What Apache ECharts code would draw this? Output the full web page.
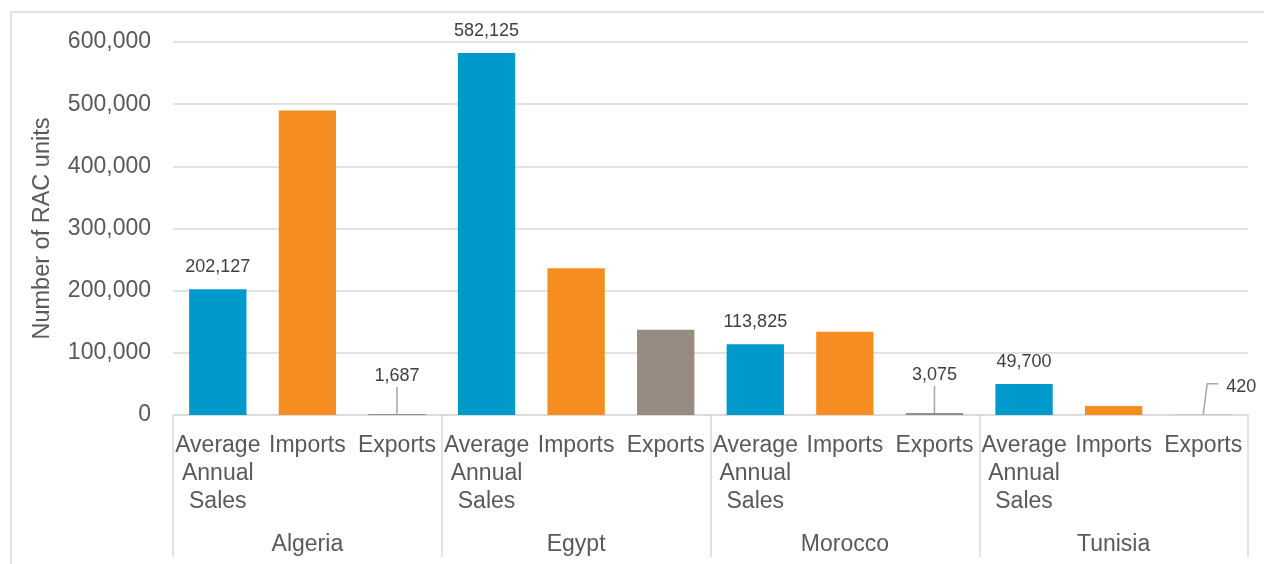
<!DOCTYPE html>
<html>
<head>
<meta charset="utf-8">
<title>RAC units by country</title>
<script src="https://cdn.jsdelivr.net/npm/echarts@6/dist/echarts.min.js"></script>
<style>
  html, body { margin: 0; padding: 0; background: #ffffff; }
  #chart { width: 1264px; height: 564px; }
</style>
</head>
<body>
<div id="chart"></div>
<script>
// Room air-conditioner market figures per country
const countries = ['Algeria', 'Egypt', 'Morocco', 'Tunisia'];
const measures = ['Average\nAnnual\nSales', 'Imports', 'Exports'];
const avgSales = [202127, 582125, 113825, 49700];
const importsVals = [490000, 236000, 134000, 14500];
const exportsVals = [1687, 137000, 3075, 420];
const yTicks = [0, 100000, 200000, 300000, 400000, 500000, 600000];

const measureColors = ['#0099CC', '#F58D21', '#988B82'];
const textColor = '#595959';
const gridColor = '#D9D9D9';
const leaderColor = '#A6A6A6';
const fontFamily = '"Liberation Sans", Arial, sans-serif';
const labelDistance = 13;
const labelFont = 18;
const fmt = v => Number(v).toLocaleString('en-US');

// Small export bars get their labels lifted, joined by a leader line
const exportLabelShift = { 'Algeria': [0, -16], 'Morocco': [0, -16], 'Tunisia': [38, -6] };

// Flatten country x measure into 12 bars
const categories = [];
const barData = [];
const leaderData = [];
countries.forEach((c, ci) => {
  const vals = [avgSales[ci], importsVals[ci], exportsVals[ci]];
  measures.forEach((m, mi) => {
    const idx = categories.length;
    categories.push(m);
    const lifted = mi === 2 && exportLabelShift[c] != null;
    barData.push({
      value: vals[mi],
      itemStyle: { color: measureColors[mi] },
      label: { show: mi === 0 || lifted }
    });
    if (lifted) leaderData.push([idx, vals[mi], ci]);
  });
});

function labelShiftFor(dataIndex) {
  const ci = Math.floor(dataIndex / 3);
  return dataIndex % 3 === 2 ? exportLabelShift[countries[ci]] : null;
}

// Leader line from the top of a small bar up to its lifted label
function renderLeader(params, api) {
  const p = api.coord([api.value(0), api.value(1)]);
  const shift = exportLabelShift[countries[api.value(2)]];
  const x = p[0], top = p[1];
  let points;
  if (shift[0] === 0) {
    const labelBottom = top - labelDistance + shift[1];
    points = [[x, top], [x, labelBottom + 2]];
  } else {
    const mid = top - labelDistance - labelFont / 2 + shift[1];
    points = [[x, top], [x + 4, mid - 3], [x + shift[0] - 23, mid - 3]];
  }
  return {
    type: 'polyline',
    shape: { points: points },
    style: { stroke: leaderColor, lineWidth: 1.5, fill: 'none' },
    silent: true
  };
}

const chart = echarts.init(document.getElementById('chart'), null, { renderer: 'canvas' });
chart.setOption({
  animation: false,
  backgroundColor: '#ffffff',
  textStyle: { fontFamily: fontFamily },
  graphic: [{
    type: 'rect',
    shape: { x: 11, y: 12, width: 1400, height: 700 },
    style: { fill: 'none', stroke: gridColor, lineWidth: 1.5 },
    silent: true,
    z: -10
  }],
  grid: { left: 173, right: 16, top: 42, bottom: 149, containLabel: false },
  xAxis: [{
    type: 'category',
    data: categories,
    position: 'bottom',
    axisLine: { show: true, lineStyle: { color: gridColor, width: 1.5 } },
    axisTick: { show: false },
    axisLabel: {
      interval: 0, color: textColor, fontSize: 23, lineHeight: 28,
      fontFamily: fontFamily, margin: 17, hideOverlap: false
    }
  }, {
    type: 'category',
    data: countries,
    position: 'bottom',
    axisLine: { show: false },
    axisTick: { show: true, length: 142, lineStyle: { color: gridColor, width: 1.5 } },
    axisLabel: { interval: 0, color: textColor, fontSize: 23, fontFamily: fontFamily, margin: 118 }
  }],
  yAxis: {
    type: 'value',
    min: yTicks[0],
    max: yTicks[yTicks.length - 1],
    interval: yTicks[1] - yTicks[0],
    name: 'Number of RAC units',
    nameLocation: 'middle',
    nameGap: 118,
    nameTextStyle: { color: textColor, fontSize: 23.5, fontFamily: fontFamily },
    axisLine: { show: false },
    axisTick: { show: false },
    axisLabel: { color: textColor, fontSize: 23, fontFamily: fontFamily, margin: 22, formatter: fmt },
    splitLine: { lineStyle: { color: gridColor, width: 1.5 } }
  },
  series: [{
    type: 'bar',
    xAxisIndex: 0,
    data: barData,
    barWidth: '64%',
    label: {
      position: 'top',
      distance: labelDistance,
      color: '#404040',
      fontSize: labelFont,
      fontFamily: fontFamily,
      formatter: p => fmt(p.value)
    },
    labelLayout: params => {
      const shift = labelShiftFor(params.dataIndex);
      return shift ? { dx: shift[0], dy: shift[1] } : {};
    }
  }, {
    type: 'custom',
    xAxisIndex: 0,
    data: leaderData,
    renderItem: renderLeader,
    z: 3
  }]
});
</script>
</body>
</html>
